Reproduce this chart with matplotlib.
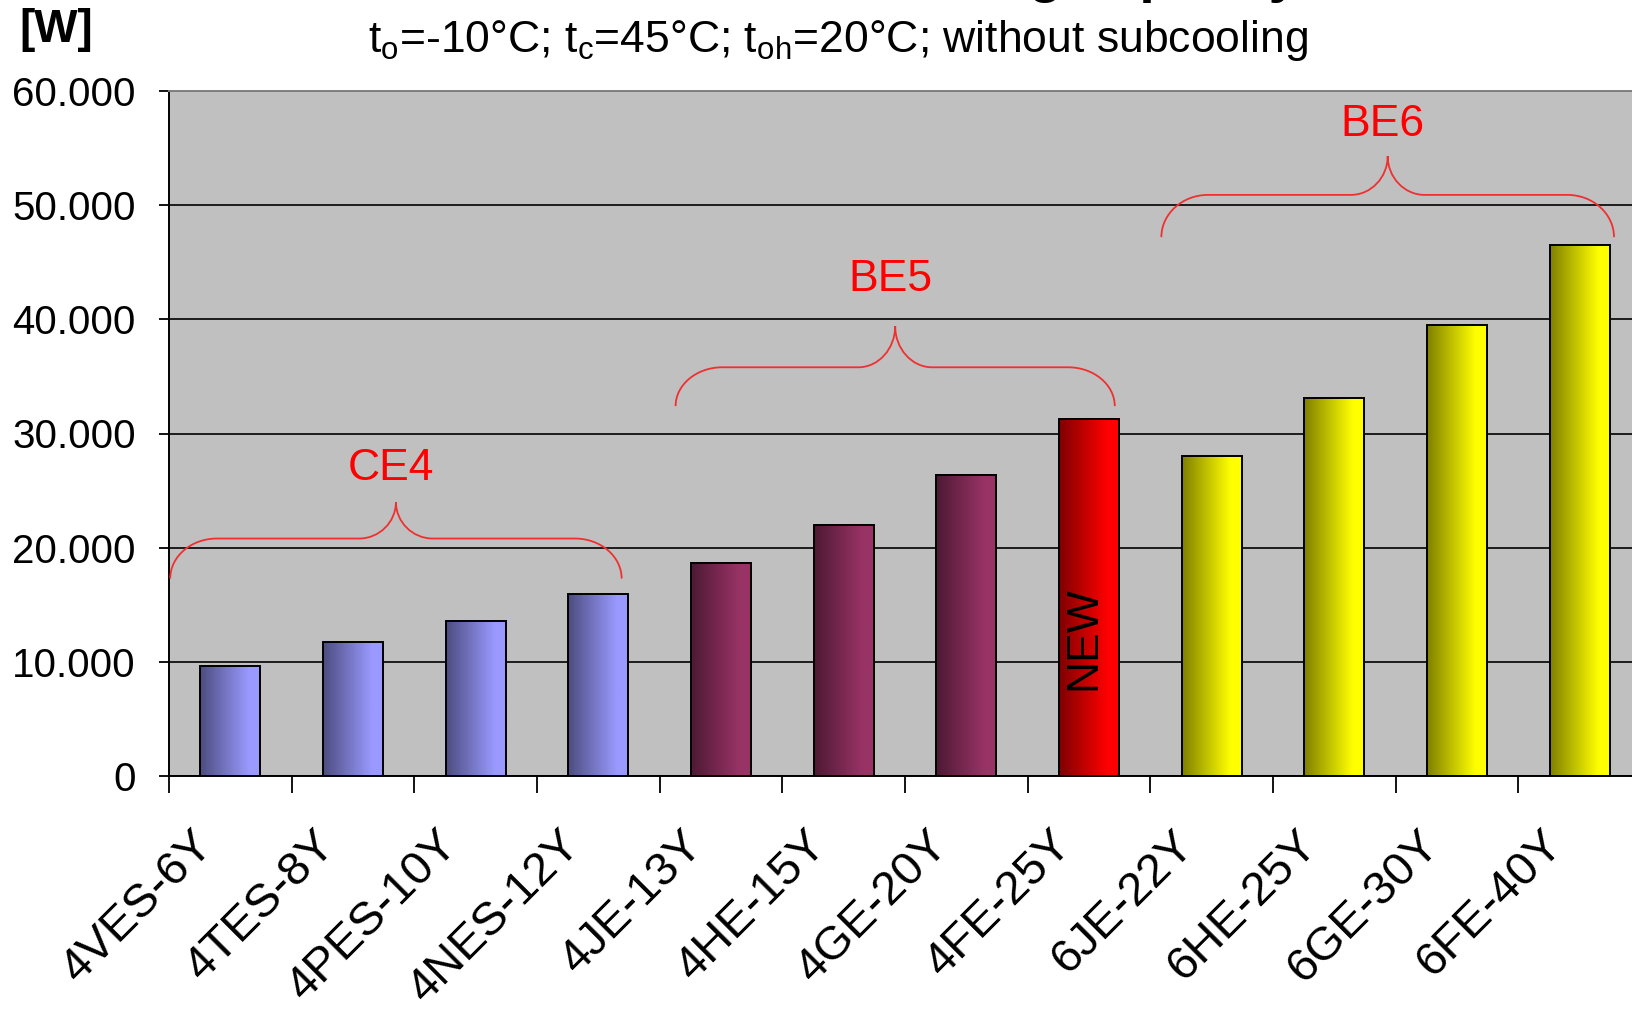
import numpy as np
import matplotlib
matplotlib.use('Agg')
import matplotlib.pyplot as plt
import matplotlib.transforms as mtransforms
from matplotlib.path import Path
from matplotlib.patches import PathPatch
from matplotlib.ticker import FuncFormatter, FixedLocator
from matplotlib.colors import to_rgb

plt.rcParams['font.family'] = ['Liberation Sans', 'DejaVu Sans']
plt.rcParams['mathtext.fontset'] = 'custom'
plt.rcParams['mathtext.rm'] = 'Liberation Sans'
plt.rcParams['mathtext.it'] = 'Liberation Sans:italic'

# data
models = ['4VES-6Y', '4TES-8Y', '4PES-10Y', '4NES-12Y', '4JE-13Y', '4HE-15Y',
          '4GE-20Y', '4FE-25Y', '6JE-22Y', '6HE-25Y', '6GE-30Y', '6FE-40Y']
capacity = [9650, 11700, 13600, 15900, 18700, 22000,
            26400, 31300, 28000, 33100, 39500, 46500]
series = ['CE4', 'CE4', 'CE4', 'CE4', 'BE5', 'BE5',
          'BE5', 'NEW', 'BE6', 'BE6', 'BE6', 'BE6']
series_colors = {'CE4': '#9999ff', 'BE5': '#993366', 'NEW': '#ff0000', 'BE6': '#ffff00'}

# curly brackets: label, left, right, end y, bar y, tip y, label y
brackets = [('CE4', -0.49, 3.19, 17300, 20800, 24000, 26900),
            ('BE5', 3.63, 7.21, 32400, 35800, 39400, 43500),
            ('BE6', 7.59, 11.28, 47200, 50900, 54300, 57050)]

W, H = 1633, 1009
fig = plt.figure(figsize=(W / 100, H / 100), dpi=100)
ax = fig.add_axes([169 / W, 1 - 776 / H, 1472 / W, 685 / H])
ax.set_facecolor('#c0c0c0')

x = np.arange(len(models))
bars = ax.bar(x, capacity, width=0.49, color='none', edgecolor='black',
              linewidth=1.4, zorder=4)

# horizontal shading inside each bar (dark left -> full colour right)
u = np.linspace(0, 1, 200)
t = np.clip(u / 0.8, 0, 1)
for bar, s in zip(bars, series):
    light = np.array(to_rgb(series_colors[s]))
    dark = light * 0.5
    grad = dark[None, :] + (light - dark)[None, :] * t[:, None]
    x0 = bar.get_x()
    ax.imshow(grad[None, :, :], extent=[x0, x0 + bar.get_width(), 0, bar.get_height()],
              aspect='auto', zorder=3, interpolation='bilinear')

ax.text(7 - 0.04, 12100, 'NEW', rotation=90, ha='center', va='center',
        fontsize=32, color='black', zorder=5)

# brackets
def brace(ax, left, right, y_end, y_bar, y_tip, rx=0.38, rm=0.3):
    mid = (left + right) / 2
    k = 0.55
    verts = [
        (left, y_end),
        (left, y_end + k * (y_bar - y_end)), (left + (1 - k) * rx, y_bar), (left + rx, y_bar),
        (mid - rm, y_bar),
        (mid - (1 - k) * rm, y_bar), (mid, y_tip - k * (y_tip - y_bar)), (mid, y_tip),
        (mid, y_tip - k * (y_tip - y_bar)), (mid + (1 - k) * rm, y_bar), (mid + rm, y_bar),
        (right - rx, y_bar),
        (right - (1 - k) * rx, y_bar), (right, y_end + k * (y_bar - y_end)), (right, y_end),
    ]
    codes = [Path.MOVETO,
             Path.CURVE4, Path.CURVE4, Path.CURVE4,
             Path.LINETO,
             Path.CURVE4, Path.CURVE4, Path.CURVE4,
             Path.CURVE4, Path.CURVE4, Path.CURVE4,
             Path.LINETO,
             Path.CURVE4, Path.CURVE4, Path.CURVE4]
    ax.add_patch(PathPatch(Path(verts, codes), facecolor='none', edgecolor='#f03030',
                           linewidth=1.3, zorder=5, clip_on=False))
    return mid

for name, left, right, y_end, y_bar, y_tip, y_lab in brackets:
    mid = brace(ax, left, right, y_end, y_bar, y_tip)
    ax.text(mid - 0.04, y_lab, name, ha='center', va='center', fontsize=32,
            color='#ff0000', zorder=5)

# axes
ax.set_xlim(-0.5, 11.5)
ax.set_ylim(0, 60000)
ax.set_yticks(np.arange(0, 60001, 10000))
ax.yaxis.set_major_formatter(FuncFormatter(lambda v, p: f'{v:,.0f}'.replace(',', '.')))
ax.grid(axis='y', color='black', linewidth=1.2, zorder=1)
ax.set_axisbelow(True)

# category labels, slanted, ending left of each category centre
ax.set_xticks(x)
ax.set_xticklabels([])
label_shift = mtransforms.ScaledTranslation(-24 / 100, -62 / 100, fig.dpi_scale_trans)
for xi, name in zip(x, models):
    ax.text(xi, 0, name, transform=ax.get_xaxis_transform() + label_shift,
            rotation=45, ha='right', va='center', rotation_mode='anchor',
            fontsize=34, clip_on=False)
ax.xaxis.set_minor_locator(FixedLocator(np.arange(-0.5, 11.6, 1)))
ax.tick_params(axis='x', which='major', length=0)
ax.tick_params(axis='x', which='minor', length=12, width=1.3, direction='out')
ax.tick_params(axis='y', length=7, width=1.3, direction='out', pad=17, labelsize=29)

for side in ['left', 'bottom']:
    ax.spines[side].set_color('black')
    ax.spines[side].set_linewidth(1.4)
ax.spines['top'].set_color('#808080')
ax.spines['top'].set_linewidth(1.4)
ax.spines['right'].set_visible(False)

# header texts
fig.text(19 / W, 1 - 8 / H, '[W]', fontsize=33, fontweight='bold', ha='left', va='top')
fig.text(838 / W, 1 - 52 / H,
         r't$_\mathrm{o}$=-10°C; t$_\mathrm{c}$=45°C; t$_\mathrm{oh}$=20°C; without subcooling',
         fontsize=32, ha='center', va='baseline')
fig.text(1300 / W, 1 + 9 / H, 'Cooling capacity', fontsize=40, fontweight='bold',
         ha='right', va='baseline')

fig.savefig('out.png', dpi=100)
